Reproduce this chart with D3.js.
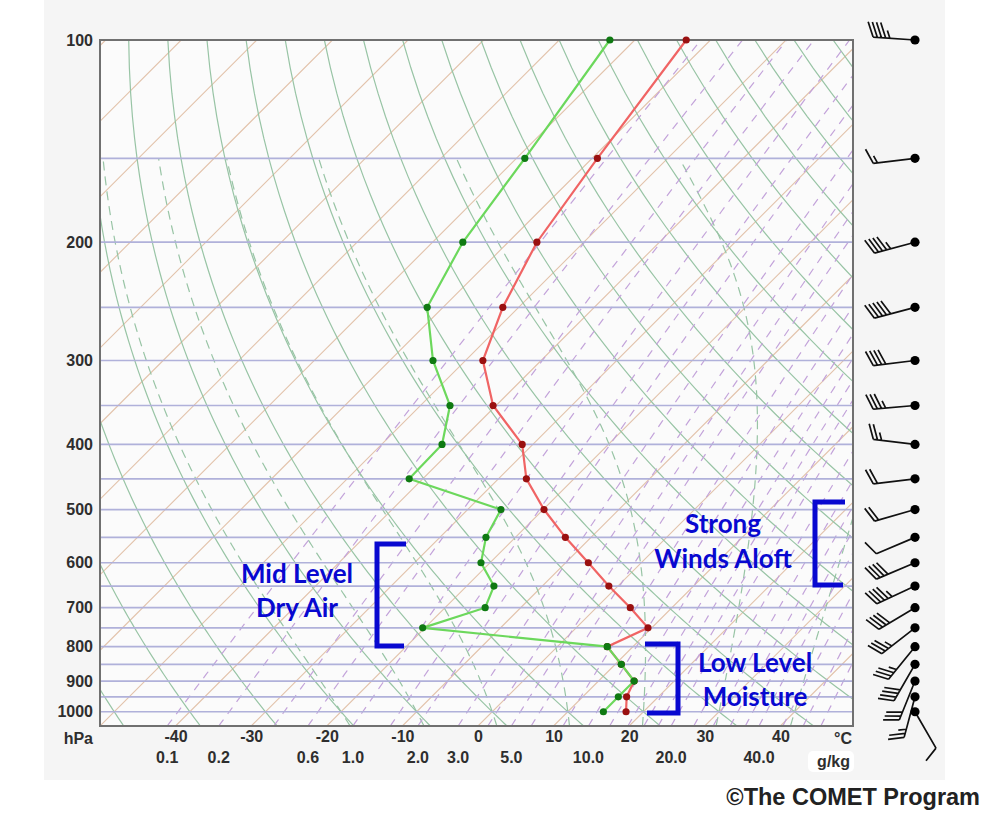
<!DOCTYPE html>
<meta charset='utf-8'>
<style>
body { margin: 0; background: #fff; }
svg text { font-family: 'Liberation Sans', Arial, sans-serif; }
</style>
<div id='chart'></div>
<script src='https://d3js.org/d3.v7.min.js'></script>
<script>

// sounding levels (hPa) and values
var levels = [100, 150, 200, 250, 300, 350, 400, 450, 500, 550, 600, 650, 700, 750, 800, 850, 900, 950, 1000];
var tempC  = [-63.2, -59.3, -56.2, -52.1, -47.7, -40.4, -31.4, -26.3, -19.9, -13.4, -7.0, -1.2, 4.5, 9.5, 6.6, 10.8, 14.7, 15.8, 17.7];
var dewC   = [-73.3, -68.9, -66.0, -62.1, -54.3, -46.1, -42.0, -41.8, -25.6, -23.9, -21.2, -16.4, -14.7, -20.3, 6.6, 10.8, 14.7, 14.7, 14.7];
var windDir = [274, 263, 255, 255, 263, 265, 277, 263, 254, 247, 247, 245, 239, 232, 219, 210, 202, 195, 150];
var windKt  = [45, 15, 45, 50, 40, 35, 25, 20, 20, 10, 40, 45, 40, 35, 35, 40, 30, 25, 10];

// axis labels
var pressTicks = [100, 200, 300, 400, 500, 600, 700, 800, 900, 1000];
var tempTicks = [-40, -30, -20, -10, 0, 10, 20, 30, 40];
var mixTicks = [0.1, 0.2, 0.6, 1, 2, 3, 5, 10, 20, 40];

// background line families
var isobars = [100, 150, 200, 250, 300, 350, 400, 450, 500, 550, 600, 650, 700, 750, 800, 850, 900, 950, 1000];
var isotherms = d3.range(-160, 60, 10);
var dryThetas = d3.range(-60, 200, 10);
var moistThetaW = [-20, -10, 0, 10, 20, 30, 40];
var mixLines = [0.1, 0.2, 0.4, 0.6, 1, 1.5, 2, 3, 4, 5, 6, 8, 10, 12, 14, 16, 18, 20, 24, 28, 32, 36, 40, 48, 56, 64];

var plotL = 100, plotR = 853, plotT = 40, plotB = 726;

var svg = d3.select('#chart')
  .append('svg')
    .attr('width', 993)
    .attr('height', 816);

svg.append('rect').attr('x', 44).attr('y', 0).attr('width', 901).attr('height', 780).attr('fill', '#f5f5f5');
svg.append('rect').attr('x', plotL).attr('y', plotT).attr('width', plotR - plotL).attr('height', plotB - plotT).attr('fill', '#fbfbfb');

var y = d3.scaleLog().domain([1050, 100]).range([plotB, plotT]);
var x = d3.scaleLinear().domain([0, 10]).range([478, 553.6]);
function sx(t, p) { return x(t) + (y(1050) - y(p)); }

svg.append('clipPath').attr('id', 'plotclip')
  .append('rect').attr('x', plotL).attr('y', plotT).attr('width', plotR - plotL).attr('height', plotB - plotT);

var grid = svg.append('g').attr('clip-path', 'url(#plotclip)');

// helpers for thermodynamic lines
function dewFromMix(w, p) {
  var e = w * p / (622 + w);
  var l = Math.log(e / 6.112);
  return 243.5 * l / (17.67 - l);
}
function moistProfile(tw, pTop) {
  var Rd = 287.04, Cp = 1005.7, Lv = 2.501e6, eps = 0.622;
  function dTdp(T, p) {
    var tc = T - 273.15;
    var es = 6.112 * Math.exp(17.67 * tc / (tc + 243.5));
    var rs = eps * es / (p - es);
    return ((Rd * T + Lv * rs) / p) / (Cp + (Lv * Lv * rs * eps) / (Rd * T * T));
  }
  function step(T, p, dp) {
    var k1 = dTdp(T, p);
    var k2 = dTdp(T + k1 * dp / 2, p + dp / 2);
    return T + k2 * dp;
  }
  var T = tw + 273.15, p;
  for (p = 1000; p < 1050; p += 5) { T = step(T, p, 5); }
  var pts = [[T - 273.15, 1050]];
  for (p = 1050; p > pTop; p -= 5) {
    T = step(T, p, -5);
    pts.push([T - 273.15, p - 5]);
  }
  return pts;
}

var line = d3.line()
  .x(function(d) { return sx(d[0], d[1]); })
  .y(function(d) { return y(d[1]); });

var pGrid = d3.range(1050, 95, -10);

// isotherms
grid.selectAll('.isotherm')
  .data(isotherms)
  .enter()
  .append('line')
    .attr('x1', function(d) { return sx(d, 1050); })
    .attr('y1', y(1050))
    .attr('x2', function(d) { return sx(d, 100); })
    .attr('y2', y(100))
    .attr('stroke', '#e2c2aa')
    .attr('stroke-width', 1.1);

// dry adiabats
grid.selectAll('.dry')
  .data(dryThetas)
  .enter()
  .append('path')
    .attr('d', function(th) {
      return line(pGrid.map(function(p) { return [(th + 273.15) * Math.pow(p / 1000, 0.286) - 273.15, p]; }));
    })
    .attr('fill', 'none')
    .attr('stroke', '#98c4a5')
    .attr('stroke-width', 1.2);

// moist adiabats
grid.selectAll('.moist')
  .data(moistThetaW)
  .enter()
  .append('path')
    .attr('d', function(tw) { return line(moistProfile(tw, 150)); })
    .attr('fill', 'none')
    .attr('stroke', '#98c4a5')
    .attr('stroke-width', 1.2)
    .attr('stroke-dasharray', '9,6');

// mixing ratio lines
grid.selectAll('.mix')
  .data(mixLines)
  .enter()
  .append('path')
    .attr('d', function(w) {
      return line(pGrid.map(function(p) { return [dewFromMix(w, p), p]; }));
    })
    .attr('fill', 'none')
    .attr('stroke', '#c3a3da')
    .attr('stroke-width', 1.2)
    .attr('stroke-dasharray', '8,7');

// isobars
grid.selectAll('.isobar')
  .data(isobars)
  .enter()
  .append('line')
    .attr('x1', plotL)
    .attr('x2', plotR)
    .attr('y1', function(d) { return y(d); })
    .attr('y2', function(d) { return y(d); })
    .attr('stroke', '#b0b1da')
    .attr('stroke-width', 1.7);

svg.append('rect')
  .attr('x', plotL).attr('y', plotT).attr('width', plotR - plotL).attr('height', plotB - plotT)
  .attr('fill', 'none').attr('stroke', '#707070').attr('stroke-width', 2);

// sounding
var sounding = levels.map(function(p, i) { return {p: p, t: tempC[i], td: dewC[i]}; });
var tLine = d3.line().x(function(d) { return sx(d.t, d.p); }).y(function(d) { return y(d.p); });
var dLine = d3.line().x(function(d) { return sx(d.td, d.p); }).y(function(d) { return y(d.p); });

svg.append('path').attr('d', tLine(sounding)).attr('fill', 'none').attr('stroke', '#f06464').attr('stroke-width', 2.2);
svg.append('g').selectAll('circle')
  .data(sounding).enter().append('circle')
    .attr('cx', function(d) { return sx(d.t, d.p); })
    .attr('cy', function(d) { return y(d.p); })
    .attr('r', 3.6)
    .attr('fill', '#9a1010');

svg.append('path').attr('d', dLine(sounding)).attr('fill', 'none').attr('stroke', '#6cd85c').attr('stroke-width', 2.2);
svg.append('g').selectAll('circle')
  .data(sounding).enter().append('circle')
    .attr('cx', function(d) { return sx(d.td, d.p); })
    .attr('cy', function(d) { return y(d.p); })
    .attr('r', 3.6)
    .attr('fill', '#0f7a12');

// axes
function styleAxis(g) {
  g.select('.domain').remove();
  g.selectAll('text')
    .attr('font-family', "'Liberation Sans', Arial, sans-serif")
    .attr('font-size', 16)
    .attr('font-weight', 'bold')
    .attr('fill', '#2e2e2e');
}
svg.append('g')
  .attr('transform', 'translate(' + plotL + ',0)')
  .call(d3.axisLeft(y).tickValues(pressTicks).tickFormat(d3.format('d')).tickSize(0).tickPadding(7))
  .call(styleAxis);

svg.append('g')
  .attr('transform', 'translate(0,' + (plotB + 5) + ')')
  .call(d3.axisBottom(x).tickValues(tempTicks).tickFormat(function(d) { return String(d); }).tickSize(0).tickPadding(0))
  .call(styleAxis);

svg.append('rect').attr('x', 808).attr('y', 751).attr('width', 46).attr('height', 21).attr('rx', 5).attr('fill', '#fff');
svg.append('g').selectAll('text')
  .data(mixTicks).enter().append('text')
    .attr('x', function(d) { return sx(dewFromMix(d, 1050), 1050); })
    .attr('y', 763)
    .attr('text-anchor', 'middle')
    .attr('font-size', 16).attr('font-weight', 'bold').attr('fill', '#2e2e2e')
    .text(d3.format('.1f'));

svg.append('text').attr('x', 93).attr('y', 744).attr('text-anchor', 'end')
  .attr('font-size', 16).attr('font-weight', 'bold').attr('fill', '#2e2e2e').text('hPa');
svg.append('text').attr('x', 852).attr('y', 744).attr('text-anchor', 'end')
  .attr('font-size', 16).attr('font-weight', 'bold').attr('fill', '#2e2e2e').text('°C');
svg.append('text').attr('x', 850).attr('y', 767).attr('text-anchor', 'end')
  .attr('font-size', 16).attr('font-weight', 'bold').attr('fill', '#2e2e2e').text('g/kg');

// wind barbs
var barbs = svg.append('g').attr('stroke', '#111').attr('stroke-width', 1.7).attr('fill', 'none');
levels.forEach(function(p, i) {
  var cx = 915, cy = y(p);
  var a = windDir[i] * Math.PI / 180;
  var dx = Math.sin(a), dy = -Math.cos(a);
  var L = 42, bl = 15, lean = 0.4, gap = 4.2;
  var ex = cx + dx * L, ey = cy + dy * L;
  var px = -dy, py = dx;
  var path = 'M' + cx + ',' + cy + 'L' + ex + ',' + ey;
  var full = Math.floor(windKt[i] / 10), half = (windKt[i] % 10) >= 5;
  var k;
  for (k = 0; k < full; k++) {
    path += 'M' + (ex - dx * k * gap) + ',' + (ey - dy * k * gap) +
      'l' + (px * bl + dx * bl * lean) + ',' + (py * bl + dy * bl * lean);
  }
  if (half) {
    if (full === 0) k = 1;
    path += 'M' + (ex - dx * k * gap) + ',' + (ey - dy * k * gap) +
      'l' + (px * bl / 2 + dx * bl * lean / 2) + ',' + (py * bl / 2 + dy * bl * lean / 2);
  }
  barbs.append('path').attr('d', path);
  svg.append('circle').attr('cx', cx).attr('cy', cy).attr('r', 4.6).attr('fill', '#000');
});

// annotations
var notes = [
  {lines: ['Mid Level', 'Dry Air'], x: 297, y: [583, 617]},
  {lines: ['Strong', 'Winds Aloft'], x: 723, y: [533, 568]},
  {lines: ['Low Level', 'Moisture'], x: 755, y: [672, 706]}
];
var brackets = ['M406,544H377V646H404', 'M845,502H815V585H843', 'M645,644H678V713H647'];
notes.forEach(function(n) {
  n.lines.forEach(function(s, j) {
    svg.append('text')
      .attr('x', n.x).attr('y', n.y[j])
      .attr('text-anchor', 'middle')
      .style('font-family', 'Lato, sans-serif')
      .attr('font-weight', 'bold')
      .attr('font-size', 26)
      .attr('fill', '#0808d0')
      .text(s);
  });
});
svg.append('g').selectAll('path')
  .data(brackets).enter().append('path')
    .attr('d', function(d) { return d; })
    .attr('fill', 'none')
    .attr('stroke', '#0808d0')
    .attr('stroke-width', 5);

svg.append('text')
  .attr('x', 980).attr('y', 805)
  .attr('text-anchor', 'end')
  .attr('font-size', 23.5).attr('font-weight', 'bold').attr('fill', '#222')
  .text('©The COMET Program');

</script>
